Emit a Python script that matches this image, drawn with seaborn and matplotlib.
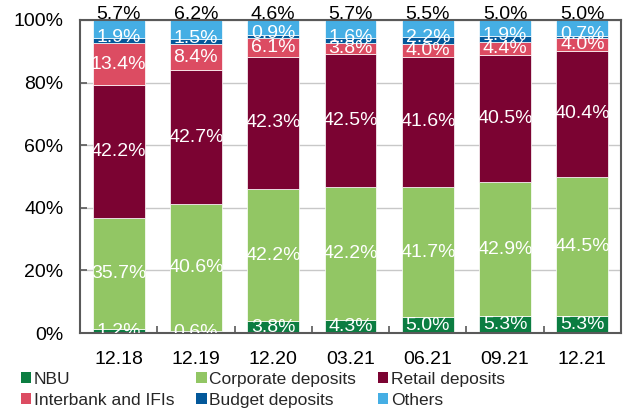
import numpy as np
import pandas as pd
import matplotlib
matplotlib.use("Agg")
import matplotlib.pyplot as plt
from matplotlib.patches import Patch
import seaborn as sns

categories = ["12.18", "12.19", "12.20", "03.21", "06.21", "09.21", "12.21"]
nbu = [1.2, 0.6, 3.8, 4.3, 5.0, 5.3, 5.3]
corporate = [35.7, 40.6, 42.2, 42.2, 41.7, 42.9, 44.5]
retail = [42.2, 42.7, 42.3, 42.5, 41.6, 40.5, 40.4]
interbank = [13.4, 8.4, 6.1, 3.8, 4.0, 4.4, 4.0]
budget = [1.9, 1.5, 0.9, 1.6, 2.2, 1.9, 0.7]
others = [5.7, 6.2, 4.6, 5.7, 5.5, 5.0, 5.0]
y_ticks = [0, 20, 40, 60, 80, 100]
y_tick_labels = ["0%", "20%", "40%", "60%", "80%", "100%"]

series_names = ["NBU", "Corporate deposits", "Retail deposits",
                "Interbank and IFIs", "Budget deposits", "Others"]
series_values = [nbu, corporate, retail, interbank, budget, others]
colors = ["#0B7D41", "#92C664", "#7B0332", "#DC4C62", "#03589A", "#45AEE4"]

sns.set_theme(style="white")
plt.rcParams["font.family"] = ["Liberation Sans", "DejaVu Sans"]

fig = plt.figure(figsize=(6.31, 4.16), dpi=100)
ax = fig.add_axes([80 / 631, 1 - 333 / 416, 541 / 631, 313 / 416])

bottom = np.zeros(len(categories))
for name, vals, col in zip(series_names, series_values, colors):
    vals = np.array(vals, dtype=float)
    sns.barplot(x=categories, y=vals, bottom=bottom, color=col, ax=ax,
                width=0.67, edgecolor="white", linewidth=0.5, zorder=2,
                saturation=1)
    for i, (v, b) in enumerate(zip(vals, bottom)):
        if name == "Others":
            ax.annotate(f"{v:.1f}%", (i, 100), xytext=(0, 4),
                        textcoords="offset points", ha="center", va="center",
                        fontsize=14, color="black", annotation_clip=False,
                        zorder=5)
        elif name == "Budget deposits":
            ax.annotate(f"{v:.1f}%", (i, b + v / 2), xytext=(0, 2),
                        textcoords="offset points", ha="center", va="center",
                        fontsize=14, color="white", zorder=5)
        else:
            ax.text(i, b + v / 2, f"{v:.1f}%", ha="center", va="center",
                    fontsize=14, color="white", clip_on=True, zorder=5)
    bottom = bottom + vals

ax.set_ylim(0, 100)
ax.set_xlim(-0.5, len(categories) - 0.5)
ax.set_yticks(y_ticks)
ax.set_yticklabels(y_tick_labels)
ax.set_xlabel("")
ax.set_ylabel("")
ax.yaxis.grid(True, color="#C8C8C8", linewidth=1, zorder=0)
ax.set_axisbelow(True)
for s in ax.spines.values():
    s.set_visible(True)
    s.set_color("#595959")
    s.set_linewidth(1.5)
ax.tick_params(axis="y", direction="in", length=5, width=1.2, color="#595959",
               labelsize=14, pad=12, left=True, labelcolor="black")
ax.tick_params(axis="x", which="major", length=0, labelsize=14, pad=13,
               labelcolor="black")
ax.set_xticks(np.arange(-0.5, len(categories), 1), minor=True)
ax.tick_params(axis="x", which="minor", direction="in", length=5, width=1.2,
               color="#595959", bottom=True)

handles = [Patch(facecolor=c, edgecolor="none") for c in colors]
order = [0, 3, 1, 4, 2, 5]
fig.legend([handles[i] for i in order], [series_names[i] for i in order],
           ncol=3, loc="upper left", bbox_to_anchor=(21 / 631, 1 - 372 / 416),
           frameon=False, fontsize=12.5, handlelength=0.6, handleheight=0.6,
           handletextpad=0.15, columnspacing=1.25, labelspacing=0.35,
           borderpad=0, borderaxespad=0)

fig.savefig("out.png", dpi=100)
